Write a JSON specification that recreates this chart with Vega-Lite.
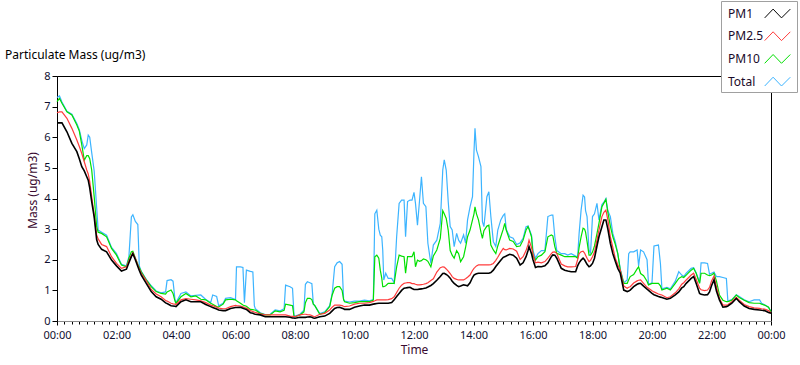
{
  "$schema": "https://vega.github.io/schema/vega-lite/v6.json",
  "width": 714,
  "height": 245,
  "autosize": {"type": "none"},
  "padding": {"left": 57, "top": 76, "right": 29, "bottom": 44},
  "background": "white",
  "config": {
    "font": "Noto Sans",
    "view": {"stroke": "#000000", "strokeWidth": 1},
    "axis": {"labelOverlap": false},
    "axisY": {"labelOverlap": false, "labelSeparation": 0},
    "axisLeft": {"labelOverlap": false}
  },
  "title": {"text": "Particulate Mass (ug/m3)", "anchor": "start", "frame": "group", "dx": -52, "offset": -70, "baseline": "alphabetic", "fontSize": 12, "fontWeight": "normal", "color": "#000000", "font": "Noto Sans"},
  "data": {"values": [
    {"m":0,"pm1":6.47,"pm25":6.8,"pm10":7.16,"total":7.3},
    {"m":5,"pm1":6.47,"pm25":6.83,"pm10":7.27,"total":7.35},
    {"m":10,"pm1":6.47,"pm25":6.83,"pm10":7.11,"total":7.15},
    {"m":20,"pm1":6.18,"pm25":6.62,"pm10":6.83,"total":6.85},
    {"m":30,"pm1":5.8,"pm25":6.29,"pm10":6.73,"total":6.75},
    {"m":40,"pm1":5.53,"pm25":5.91,"pm10":6.4,"total":6.45},
    {"m":45,"pm1":5.3,"pm25":5.7,"pm10":6.2,"total":6.25},
    {"m":50,"pm1":5.04,"pm25":5.47,"pm10":5.75,"total":5.9},
    {"m":55,"pm1":4.9,"pm25":5.2,"pm10":5.25,"total":5.63},
    {"m":60,"pm1":4.71,"pm25":4.93,"pm10":5.4,"total":5.75},
    {"m":63,"pm1":4.6,"pm25":4.8,"pm10":5.4,"total":6.07},
    {"m":66,"pm1":4.35,"pm25":4.55,"pm10":5.3,"total":6.0},
    {"m":70,"pm1":3.9,"pm25":4.06,"pm10":4.93,"total":5.5},
    {"m":75,"pm1":3.4,"pm25":3.45,"pm10":4.06,"total":4.9},
    {"m":80,"pm1":2.65,"pm25":2.81,"pm10":3.08,"total":3.7},
    {"m":83,"pm1":2.5,"pm25":2.68,"pm10":2.9,"total":2.97},
    {"m":90,"pm1":2.34,"pm25":2.5,"pm10":2.86,"total":2.9},
    {"m":100,"pm1":2.26,"pm25":2.43,"pm10":2.75,"total":2.8},
    {"m":110,"pm1":1.99,"pm25":2.1,"pm10":2.37,"total":2.4},
    {"m":120,"pm1":1.8,"pm25":1.88,"pm10":2.15,"total":2.2},
    {"m":130,"pm1":1.63,"pm25":1.72,"pm10":1.83,"total":1.85},
    {"m":140,"pm1":1.69,"pm25":1.77,"pm10":1.77,"total":1.8},
    {"m":145,"pm1":1.9,"pm25":1.96,"pm10":2.05,"total":2.1},
    {"m":150,"pm1":2.1,"pm25":2.15,"pm10":2.26,"total":3.4},
    {"m":153,"pm1":2.2,"pm25":2.23,"pm10":2.28,"total":3.47},
    {"m":158,"pm1":2.0,"pm25":2.05,"pm10":2.05,"total":3.25},
    {"m":163,"pm1":1.78,"pm25":1.83,"pm10":1.85,"total":3.15},
    {"m":166,"pm1":1.65,"pm25":1.7,"pm10":1.75,"total":1.8},
    {"m":170,"pm1":1.5,"pm25":1.56,"pm10":1.61,"total":1.62},
    {"m":180,"pm1":1.23,"pm25":1.32,"pm10":1.34,"total":1.36},
    {"m":190,"pm1":0.96,"pm25":1.03,"pm10":1.12,"total":1.15},
    {"m":200,"pm1":0.79,"pm25":0.88,"pm10":0.96,"total":0.98},
    {"m":210,"pm1":0.71,"pm25":0.79,"pm10":0.9,"total":0.92},
    {"m":219,"pm1":0.59,"pm25":0.67,"pm10":0.88,"total":0.95},
    {"m":222,"pm1":0.57,"pm25":0.65,"pm10":0.95,"total":1.32},
    {"m":230,"pm1":0.5,"pm25":0.58,"pm10":1.01,"total":1.35},
    {"m":234,"pm1":0.49,"pm25":0.56,"pm10":0.9,"total":1.3},
    {"m":238,"pm1":0.48,"pm25":0.55,"pm10":0.65,"total":0.7},
    {"m":240,"pm1":0.47,"pm25":0.54,"pm10":0.58,"total":0.6},
    {"m":250,"pm1":0.63,"pm25":0.69,"pm10":0.79,"total":0.9},
    {"m":260,"pm1":0.69,"pm25":0.73,"pm10":0.9,"total":0.95},
    {"m":270,"pm1":0.63,"pm25":0.71,"pm10":0.79,"total":0.82},
    {"m":280,"pm1":0.63,"pm25":0.69,"pm10":0.82,"total":0.84},
    {"m":290,"pm1":0.63,"pm25":0.66,"pm10":0.71,"total":0.85},
    {"m":300,"pm1":0.54,"pm25":0.6,"pm10":0.69,"total":0.7},
    {"m":310,"pm1":0.47,"pm25":0.52,"pm10":0.58,"total":0.6},
    {"m":314,"pm1":0.44,"pm25":0.5,"pm10":0.55,"total":0.85},
    {"m":322,"pm1":0.39,"pm25":0.45,"pm10":0.47,"total":0.8},
    {"m":326,"pm1":0.36,"pm25":0.42,"pm10":0.46,"total":0.5},
    {"m":335,"pm1":0.34,"pm25":0.4,"pm10":0.55,"total":0.58},
    {"m":340,"pm1":0.34,"pm25":0.4,"pm10":0.69,"total":0.74},
    {"m":350,"pm1":0.41,"pm25":0.47,"pm10":0.71,"total":0.76},
    {"m":360,"pm1":0.44,"pm25":0.51,"pm10":0.69,"total":0.7},
    {"m":362,"pm1":0.44,"pm25":0.5,"pm10":0.66,"total":1.77},
    {"m":370,"pm1":0.45,"pm25":0.49,"pm10":0.58,"total":1.77},
    {"m":375,"pm1":0.42,"pm25":0.46,"pm10":0.52,"total":1.75},
    {"m":378,"pm1":0.4,"pm25":0.44,"pm10":0.5,"total":0.6},
    {"m":382,"pm1":0.38,"pm25":0.42,"pm10":0.48,"total":1.66},
    {"m":390,"pm1":0.27,"pm25":0.34,"pm10":0.38,"total":1.62},
    {"m":395,"pm1":0.25,"pm25":0.31,"pm10":0.37,"total":1.6},
    {"m":398,"pm1":0.23,"pm25":0.29,"pm10":0.36,"total":0.5},
    {"m":400,"pm1":0.22,"pm25":0.28,"pm10":0.36,"total":0.4},
    {"m":410,"pm1":0.2,"pm25":0.23,"pm10":0.25,"total":0.27},
    {"m":420,"pm1":0.14,"pm25":0.2,"pm10":0.2,"total":0.21},
    {"m":430,"pm1":0.14,"pm25":0.2,"pm10":0.2,"total":0.22},
    {"m":440,"pm1":0.14,"pm25":0.2,"pm10":0.33,"total":0.36},
    {"m":450,"pm1":0.14,"pm25":0.2,"pm10":0.3,"total":0.33},
    {"m":458,"pm1":0.14,"pm25":0.2,"pm10":0.35,"total":0.4},
    {"m":461,"pm1":0.14,"pm25":0.2,"pm10":0.55,"total":1.17},
    {"m":470,"pm1":0.12,"pm25":0.16,"pm10":0.52,"total":1.12},
    {"m":475,"pm1":0.1,"pm25":0.15,"pm10":0.5,"total":1.07},
    {"m":478,"pm1":0.1,"pm25":0.15,"pm10":0.15,"total":0.18},
    {"m":480,"pm1":0.09,"pm25":0.14,"pm10":0.14,"total":0.16},
    {"m":490,"pm1":0.12,"pm25":0.2,"pm10":0.2,"total":0.22},
    {"m":498,"pm1":0.12,"pm25":0.22,"pm10":0.3,"total":0.35},
    {"m":501,"pm1":0.12,"pm25":0.22,"pm10":0.6,"total":1.2},
    {"m":505,"pm1":0.13,"pm25":0.21,"pm10":0.74,"total":1.28},
    {"m":510,"pm1":0.14,"pm25":0.2,"pm10":0.74,"total":1.25},
    {"m":514,"pm1":0.12,"pm25":0.18,"pm10":0.7,"total":1.22},
    {"m":517,"pm1":0.1,"pm25":0.15,"pm10":0.55,"total":0.55},
    {"m":520,"pm1":0.09,"pm25":0.14,"pm10":0.5,"total":0.5},
    {"m":530,"pm1":0.14,"pm25":0.22,"pm10":0.22,"total":0.24},
    {"m":540,"pm1":0.16,"pm25":0.25,"pm10":0.27,"total":0.3},
    {"m":550,"pm1":0.25,"pm25":0.36,"pm10":0.47,"total":0.5},
    {"m":555,"pm1":0.33,"pm25":0.45,"pm10":0.85,"total":0.9},
    {"m":560,"pm1":0.41,"pm25":0.52,"pm10":1.07,"total":1.77},
    {"m":565,"pm1":0.44,"pm25":0.52,"pm10":1.12,"total":1.9},
    {"m":570,"pm1":0.45,"pm25":0.52,"pm10":1.12,"total":1.94},
    {"m":575,"pm1":0.42,"pm25":0.5,"pm10":1.0,"total":1.85},
    {"m":578,"pm1":0.4,"pm25":0.48,"pm10":0.7,"total":0.7},
    {"m":580,"pm1":0.38,"pm25":0.47,"pm10":0.63,"total":0.65},
    {"m":590,"pm1":0.38,"pm25":0.49,"pm10":0.58,"total":0.62},
    {"m":600,"pm1":0.45,"pm25":0.55,"pm10":0.6,"total":0.65},
    {"m":610,"pm1":0.49,"pm25":0.58,"pm10":0.63,"total":0.65},
    {"m":620,"pm1":0.52,"pm25":0.58,"pm10":0.63,"total":0.68},
    {"m":630,"pm1":0.52,"pm25":0.6,"pm10":0.63,"total":0.66},
    {"m":638,"pm1":0.55,"pm25":0.64,"pm10":0.68,"total":0.7},
    {"m":641,"pm1":0.56,"pm25":0.66,"pm10":2.1,"total":3.5},
    {"m":645,"pm1":0.57,"pm25":0.69,"pm10":2.15,"total":3.62},
    {"m":649,"pm1":0.58,"pm25":0.69,"pm10":2.05,"total":3.0},
    {"m":652,"pm1":0.58,"pm25":0.69,"pm10":1.66,"total":2.8},
    {"m":655,"pm1":0.58,"pm25":0.69,"pm10":1.4,"total":2.75},
    {"m":657,"pm1":0.58,"pm25":0.69,"pm10":1.12,"total":2.3},
    {"m":659,"pm1":0.58,"pm25":0.69,"pm10":1.12,"total":1.34},
    {"m":663,"pm1":0.58,"pm25":0.69,"pm10":1.15,"total":1.56},
    {"m":668,"pm1":0.58,"pm25":0.7,"pm10":1.23,"total":1.39},
    {"m":675,"pm1":0.6,"pm25":0.73,"pm10":1.23,"total":1.39},
    {"m":680,"pm1":0.69,"pm25":0.79,"pm10":1.23,"total":1.25},
    {"m":685,"pm1":0.8,"pm25":0.93,"pm10":1.77,"total":2.75},
    {"m":690,"pm1":0.9,"pm25":1.07,"pm10":2.15,"total":3.84},
    {"m":695,"pm1":1.0,"pm25":1.17,"pm10":2.12,"total":3.95},
    {"m":700,"pm1":1.07,"pm25":1.23,"pm10":2.1,"total":3.95},
    {"m":703,"pm1":1.08,"pm25":1.24,"pm10":1.56,"total":2.75},
    {"m":707,"pm1":1.09,"pm25":1.25,"pm10":2.1,"total":3.9},
    {"m":712,"pm1":1.1,"pm25":1.25,"pm10":2.1,"total":3.95},
    {"m":716,"pm1":1.06,"pm25":1.22,"pm10":2.1,"total":3.95},
    {"m":720,"pm1":1.03,"pm25":1.22,"pm10":2.26,"total":4.2},
    {"m":723,"pm1":1.03,"pm25":1.2,"pm10":1.77,"total":3.84},
    {"m":727,"pm1":1.03,"pm25":1.18,"pm10":1.99,"total":3.13},
    {"m":731,"pm1":1.04,"pm25":1.18,"pm10":1.95,"total":3.9},
    {"m":735,"pm1":1.05,"pm25":1.19,"pm10":1.97,"total":4.71},
    {"m":739,"pm1":1.06,"pm25":1.2,"pm10":2.03,"total":3.84},
    {"m":744,"pm1":1.08,"pm25":1.22,"pm10":2.0,"total":3.73},
    {"m":748,"pm1":1.11,"pm25":1.25,"pm10":1.95,"total":2.54},
    {"m":754,"pm1":1.16,"pm25":1.32,"pm10":1.77,"total":1.88},
    {"m":759,"pm1":1.22,"pm25":1.38,"pm10":2.12,"total":2.48},
    {"m":766,"pm1":1.33,"pm25":1.6,"pm10":2.32,"total":2.64},
    {"m":773,"pm1":1.45,"pm25":1.74,"pm10":2.7,"total":3.19},
    {"m":778,"pm1":1.55,"pm25":1.77,"pm10":3.6,"total":4.93},
    {"m":781,"pm1":1.56,"pm25":1.76,"pm10":3.5,"total":5.26},
    {"m":785,"pm1":1.52,"pm25":1.7,"pm10":3.35,"total":4.93},
    {"m":789,"pm1":1.47,"pm25":1.63,"pm10":2.97,"total":3.9},
    {"m":793,"pm1":1.4,"pm25":1.55,"pm10":2.3,"total":3.08},
    {"m":797,"pm1":1.3,"pm25":1.45,"pm10":2.15,"total":2.97},
    {"m":801,"pm1":1.23,"pm25":1.39,"pm10":2.05,"total":2.43},
    {"m":806,"pm1":1.16,"pm25":1.36,"pm10":2.3,"total":2.86},
    {"m":810,"pm1":1.12,"pm25":1.34,"pm10":2.2,"total":2.64},
    {"m":814,"pm1":1.14,"pm25":1.34,"pm10":1.94,"total":2.54},
    {"m":820,"pm1":1.18,"pm25":1.34,"pm10":2.1,"total":2.81},
    {"m":824,"pm1":1.17,"pm25":1.38,"pm10":2.4,"total":2.54},
    {"m":828,"pm1":1.15,"pm25":1.43,"pm10":2.75,"total":3.3},
    {"m":833,"pm1":1.25,"pm25":1.5,"pm10":2.97,"total":3.73},
    {"m":838,"pm1":1.42,"pm25":1.65,"pm10":3.3,"total":4.06},
    {"m":841,"pm1":1.5,"pm25":1.72,"pm10":3.5,"total":5.53},
    {"m":843,"pm1":1.52,"pm25":1.75,"pm10":3.73,"total":6.29},
    {"m":846,"pm1":1.54,"pm25":1.8,"pm10":3.5,"total":5.58},
    {"m":850,"pm1":1.56,"pm25":1.83,"pm10":3.3,"total":5.37},
    {"m":855,"pm1":1.56,"pm25":1.83,"pm10":2.9,"total":5.04},
    {"m":858,"pm1":1.56,"pm25":1.83,"pm10":2.7,"total":3.24},
    {"m":861,"pm1":1.56,"pm25":1.83,"pm10":2.95,"total":3.08},
    {"m":867,"pm1":1.56,"pm25":1.83,"pm10":3.1,"total":4.06},
    {"m":871,"pm1":1.56,"pm25":1.83,"pm10":3.13,"total":4.22},
    {"m":875,"pm1":1.58,"pm25":1.84,"pm10":2.48,"total":3.41},
    {"m":880,"pm1":1.66,"pm25":1.88,"pm10":2.32,"total":2.59},
    {"m":885,"pm1":1.78,"pm25":1.98,"pm10":2.2,"total":2.43},
    {"m":889,"pm1":1.86,"pm25":2.08,"pm10":2.45,"total":2.97},
    {"m":895,"pm1":1.98,"pm25":2.25,"pm10":2.75,"total":3.3},
    {"m":900,"pm1":2.08,"pm25":2.37,"pm10":3.0,"total":3.45},
    {"m":903,"pm1":2.1,"pm25":2.33,"pm10":3.19,"total":3.5},
    {"m":906,"pm1":2.12,"pm25":2.32,"pm10":2.97,"total":3.0},
    {"m":913,"pm1":2.18,"pm25":2.37,"pm10":2.64,"total":2.75},
    {"m":920,"pm1":2.15,"pm25":2.35,"pm10":2.6,"total":2.7},
    {"m":927,"pm1":2.05,"pm25":2.28,"pm10":2.43,"total":2.5},
    {"m":934,"pm1":1.83,"pm25":2.01,"pm10":2.45,"total":2.55},
    {"m":940,"pm1":1.9,"pm25":2.1,"pm10":2.64,"total":2.7},
    {"m":946,"pm1":2.1,"pm25":2.3,"pm10":2.97,"total":3.08},
    {"m":950,"pm1":2.3,"pm25":2.5,"pm10":3.08,"total":3.1},
    {"m":952,"pm1":2.43,"pm25":2.64,"pm10":3.0,"total":3.02},
    {"m":957,"pm1":2.2,"pm25":2.4,"pm10":2.75,"total":2.8},
    {"m":960,"pm1":2.0,"pm25":2.2,"pm10":2.15,"total":2.3},
    {"m":965,"pm1":1.75,"pm25":1.9,"pm10":1.99,"total":2.05},
    {"m":970,"pm1":1.78,"pm25":1.92,"pm10":2.1,"total":2.2},
    {"m":977,"pm1":1.77,"pm25":1.9,"pm10":2.15,"total":2.3},
    {"m":984,"pm1":1.8,"pm25":1.94,"pm10":2.26,"total":2.3},
    {"m":990,"pm1":1.9,"pm25":2.05,"pm10":2.75,"total":3.41},
    {"m":997,"pm1":2.1,"pm25":2.2,"pm10":2.81,"total":3.46},
    {"m":1000,"pm1":2.16,"pm25":2.25,"pm10":2.78,"total":3.46},
    {"m":1004,"pm1":2.15,"pm25":2.26,"pm10":2.43,"total":2.75},
    {"m":1008,"pm1":2.05,"pm25":2.2,"pm10":2.21,"total":2.3},
    {"m":1017,"pm1":1.72,"pm25":1.86,"pm10":2.15,"total":2.2},
    {"m":1024,"pm1":1.66,"pm25":1.8,"pm10":2.1,"total":2.2},
    {"m":1030,"pm1":1.63,"pm25":1.77,"pm10":2.1,"total":2.15},
    {"m":1037,"pm1":1.61,"pm25":1.77,"pm10":2.1,"total":2.2},
    {"m":1046,"pm1":1.61,"pm25":1.78,"pm10":2.1,"total":2.12},
    {"m":1050,"pm1":1.8,"pm25":2.0,"pm10":2.05,"total":2.1},
    {"m":1053,"pm1":1.9,"pm25":2.2,"pm10":2.4,"total":2.86},
    {"m":1057,"pm1":1.99,"pm25":2.26,"pm10":2.75,"total":3.62},
    {"m":1061,"pm1":2.05,"pm25":2.28,"pm10":3.03,"total":4.11},
    {"m":1064,"pm1":2.0,"pm25":2.22,"pm10":3.0,"total":4.05},
    {"m":1066,"pm1":1.94,"pm25":2.15,"pm10":2.9,"total":3.6},
    {"m":1069,"pm1":1.85,"pm25":2.05,"pm10":2.6,"total":3.41},
    {"m":1073,"pm1":1.77,"pm25":1.94,"pm10":2.15,"total":2.32},
    {"m":1076,"pm1":1.8,"pm25":1.98,"pm10":2.15,"total":2.2},
    {"m":1080,"pm1":1.88,"pm25":2.1,"pm10":2.25,"total":3.41},
    {"m":1084,"pm1":2.05,"pm25":2.25,"pm10":2.45,"total":3.5},
    {"m":1089,"pm1":2.45,"pm25":2.65,"pm10":2.85,"total":3.84},
    {"m":1093,"pm1":2.75,"pm25":2.97,"pm10":3.19,"total":3.3},
    {"m":1099,"pm1":3.08,"pm25":3.41,"pm10":3.73,"total":3.8},
    {"m":1103,"pm1":3.3,"pm25":3.55,"pm10":3.85,"total":3.88},
    {"m":1107,"pm1":3.3,"pm25":3.62,"pm10":3.97,"total":4.0},
    {"m":1111,"pm1":3.0,"pm25":3.3,"pm10":3.55,"total":3.6},
    {"m":1116,"pm1":2.54,"pm25":2.75,"pm10":3.1,"total":3.41},
    {"m":1121,"pm1":2.2,"pm25":2.4,"pm10":2.75,"total":2.86},
    {"m":1126,"pm1":1.95,"pm25":2.05,"pm10":2.5,"total":2.59},
    {"m":1131,"pm1":1.72,"pm25":1.84,"pm10":2.2,"total":2.2},
    {"m":1136,"pm1":1.56,"pm25":1.66,"pm10":1.66,"total":1.7},
    {"m":1143,"pm1":1.01,"pm25":1.14,"pm10":1.23,"total":1.25},
    {"m":1150,"pm1":0.96,"pm25":1.07,"pm10":1.23,"total":1.34},
    {"m":1153,"pm1":0.98,"pm25":1.1,"pm10":1.35,"total":2.2},
    {"m":1156,"pm1":1.01,"pm25":1.12,"pm10":1.45,"total":2.26},
    {"m":1163,"pm1":1.12,"pm25":1.24,"pm10":1.52,"total":2.26},
    {"m":1170,"pm1":1.2,"pm25":1.31,"pm10":1.7,"total":2.32},
    {"m":1173,"pm1":1.22,"pm25":1.33,"pm10":1.77,"total":1.8},
    {"m":1177,"pm1":1.23,"pm25":1.34,"pm10":1.55,"total":2.32},
    {"m":1183,"pm1":1.14,"pm25":1.23,"pm10":1.48,"total":2.26},
    {"m":1190,"pm1":1.04,"pm25":1.1,"pm10":1.3,"total":2.0},
    {"m":1193,"pm1":1.0,"pm25":1.07,"pm10":1.18,"total":1.2},
    {"m":1200,"pm1":0.9,"pm25":0.99,"pm10":1.23,"total":1.25},
    {"m":1204,"pm1":0.86,"pm25":0.95,"pm10":1.23,"total":2.45},
    {"m":1213,"pm1":0.8,"pm25":0.88,"pm10":1.23,"total":2.48},
    {"m":1217,"pm1":0.78,"pm25":0.86,"pm10":1.15,"total":1.88},
    {"m":1220,"pm1":0.77,"pm25":0.85,"pm10":1.01,"total":1.05},
    {"m":1230,"pm1":0.71,"pm25":0.76,"pm10":1.07,"total":1.1},
    {"m":1237,"pm1":0.74,"pm25":0.79,"pm10":1.01,"total":1.05},
    {"m":1247,"pm1":0.85,"pm25":0.92,"pm10":1.23,"total":1.3},
    {"m":1254,"pm1":0.95,"pm25":1.05,"pm10":1.39,"total":1.61},
    {"m":1260,"pm1":1.08,"pm25":1.2,"pm10":1.45,"total":1.5},
    {"m":1264,"pm1":1.12,"pm25":1.25,"pm10":1.42,"total":1.45},
    {"m":1269,"pm1":1.23,"pm25":1.34,"pm10":1.5,"total":1.56},
    {"m":1279,"pm1":1.39,"pm25":1.5,"pm10":1.66,"total":1.72},
    {"m":1284,"pm1":1.45,"pm25":1.56,"pm10":1.72,"total":1.74},
    {"m":1289,"pm1":1.23,"pm25":1.36,"pm10":1.56,"total":1.58},
    {"m":1296,"pm1":0.9,"pm25":1.07,"pm10":1.23,"total":1.25},
    {"m":1299,"pm1":0.87,"pm25":1.02,"pm10":1.56,"total":1.9},
    {"m":1306,"pm1":0.85,"pm25":0.99,"pm10":1.56,"total":1.9},
    {"m":1312,"pm1":0.86,"pm25":1.01,"pm10":1.5,"total":1.88},
    {"m":1316,"pm1":0.95,"pm25":1.1,"pm10":1.48,"total":1.53},
    {"m":1320,"pm1":1.15,"pm25":1.3,"pm10":1.5,"total":1.56},
    {"m":1325,"pm1":1.34,"pm25":1.47,"pm10":1.56,"total":1.6},
    {"m":1330,"pm1":0.98,"pm25":1.12,"pm10":1.3,"total":1.45},
    {"m":1336,"pm1":0.69,"pm25":0.74,"pm10":0.85,"total":1.45},
    {"m":1343,"pm1":0.45,"pm25":0.52,"pm10":0.68,"total":1.42},
    {"m":1350,"pm1":0.47,"pm25":0.52,"pm10":0.63,"total":1.39},
    {"m":1353,"pm1":0.49,"pm25":0.53,"pm10":0.63,"total":0.65},
    {"m":1361,"pm1":0.58,"pm25":0.63,"pm10":0.68,"total":0.7},
    {"m":1370,"pm1":0.74,"pm25":0.77,"pm10":0.85,"total":0.86},
    {"m":1376,"pm1":0.63,"pm25":0.68,"pm10":0.77,"total":0.8},
    {"m":1386,"pm1":0.49,"pm25":0.54,"pm10":0.68,"total":0.69},
    {"m":1396,"pm1":0.41,"pm25":0.47,"pm10":0.6,"total":0.63},
    {"m":1406,"pm1":0.38,"pm25":0.43,"pm10":0.58,"total":0.69},
    {"m":1417,"pm1":0.36,"pm25":0.41,"pm10":0.58,"total":0.69},
    {"m":1421,"pm1":0.35,"pm25":0.4,"pm10":0.55,"total":0.58},
    {"m":1427,"pm1":0.34,"pm25":0.39,"pm10":0.52,"total":0.53},
    {"m":1435,"pm1":0.28,"pm25":0.34,"pm10":0.45,"total":0.45},
    {"m":1440,"pm1":0.25,"pm25":0.27,"pm10":0.3,"total":0.3}
  ]},
  "encoding": {
    "x": {
      "field": "m", "type": "quantitative",
      "scale": {"domain": [0, 1440], "nice": false, "zero": false},
      "axis": {
        "title": "Time",
        "values": [0,15,30,45,60,75,90,105,120,135,150,165,180,195,210,225,240,255,270,285,300,315,330,345,360,375,390,405,420,435,450,465,480,495,510,525,540,555,570,585,600,615,630,645,660,675,690,705,720,735,750,765,780,795,810,825,840,855,870,885,900,915,930,945,960,975,990,1005,1020,1035,1050,1065,1080,1095,1110,1125,1140,1155,1170,1185,1200,1215,1230,1245,1260,1275,1290,1305,1320,1335,1350,1365,1380,1395,1410,1425,1440],
        "labelExpr": "datum.value % 120 === 0 ? ((((datum.value / 60) % 24) < 10) ? '0' : '') + ((datum.value / 60) % 24) + ':00' : ''",
        "tickSize": {"condition": {"test": "datum.value % 120 === 0", "value": 4}, "value": 3},
        "labelOverlap": false,
        "labelFlush": false,
        "grid": false,
        "domainColor": "#8a8a8a",
        "tickColor": "#000000",
        "labelFontSize": 11,
        "labelColor": "#101030",
        "labelPadding": 4,
        "titlePadding": 4,
        "titleFontSize": 12,
        "titleFontWeight": "normal",
        "titleColor": "#3a0a30"
      }
    },
    "y": {"type": "quantitative", "title": "Mass (ug/m3)",
      "scale": {"domain": [0, 8], "nice": false},
      "axis": {"values": [0,1,2,3,4,5,6,7,8], "labelExpr": "'' + datum.value", "labelOverlap": false, "labelFlush": false, "tickSize": 5, "labelPadding": 2, "labelFontSize": 11, "labelColor": "#101030", "domainColor": "#000000", "tickColor": "#000000", "grid": false, "titleFontSize": 12, "titleFontWeight": "normal", "titleColor": "#3a0a30", "titleX": -25, "titleY": 114, "titleAlign": "center", "titleBaseline": "middle", "titleAngle": -90}}
  },
  "layer": [
    {
      "mark": {"type": "line", "strokeWidth": 1.2},
      "encoding": {
        "y": {"field": "total"},
        "color": {"datum": "Total",
          "scale": {"domain": ["PM1", "PM2.5", "PM10", "Total"], "range": ["#000000", "#ff3c3c", "#00e000", "#3cb4ff"]},
          "legend": {"title": null, "orient": "none", "legendX": 664, "legendY": -75,
            "symbolType": "M-1.6,0.55L-0.55,-0.55L0.5,0.55L1.6,-0.55",
            "symbolSize": 256, "symbolStrokeWidth": 1, "symbolFillColor": "transparent",
            "labelOffset": -58, "symbolOffset": 44, "rowPadding": 7.7,
            "labelFontSize": 12, "labelFont": "Noto Sans", "labelColor": "#1a0a2a",
            "strokeColor": "#a0a0a0", "fillColor": "#ffffff", "padding": 4}}
      }
    },
    {
      "mark": {"type": "line", "strokeWidth": 1.2},
      "encoding": {
        "y": {"field": "pm10"},
        "color": {"datum": "PM10"}
      }
    },
    {
      "mark": {"type": "line", "strokeWidth": 1.2},
      "encoding": {
        "y": {"field": "pm25"},
        "color": {"datum": "PM2.5"}
      }
    },
    {
      "mark": {"type": "line", "strokeWidth": 1.6},
      "encoding": {
        "y": {"field": "pm1"},
        "color": {"datum": "PM1"}
      }
    }
  ]
}
